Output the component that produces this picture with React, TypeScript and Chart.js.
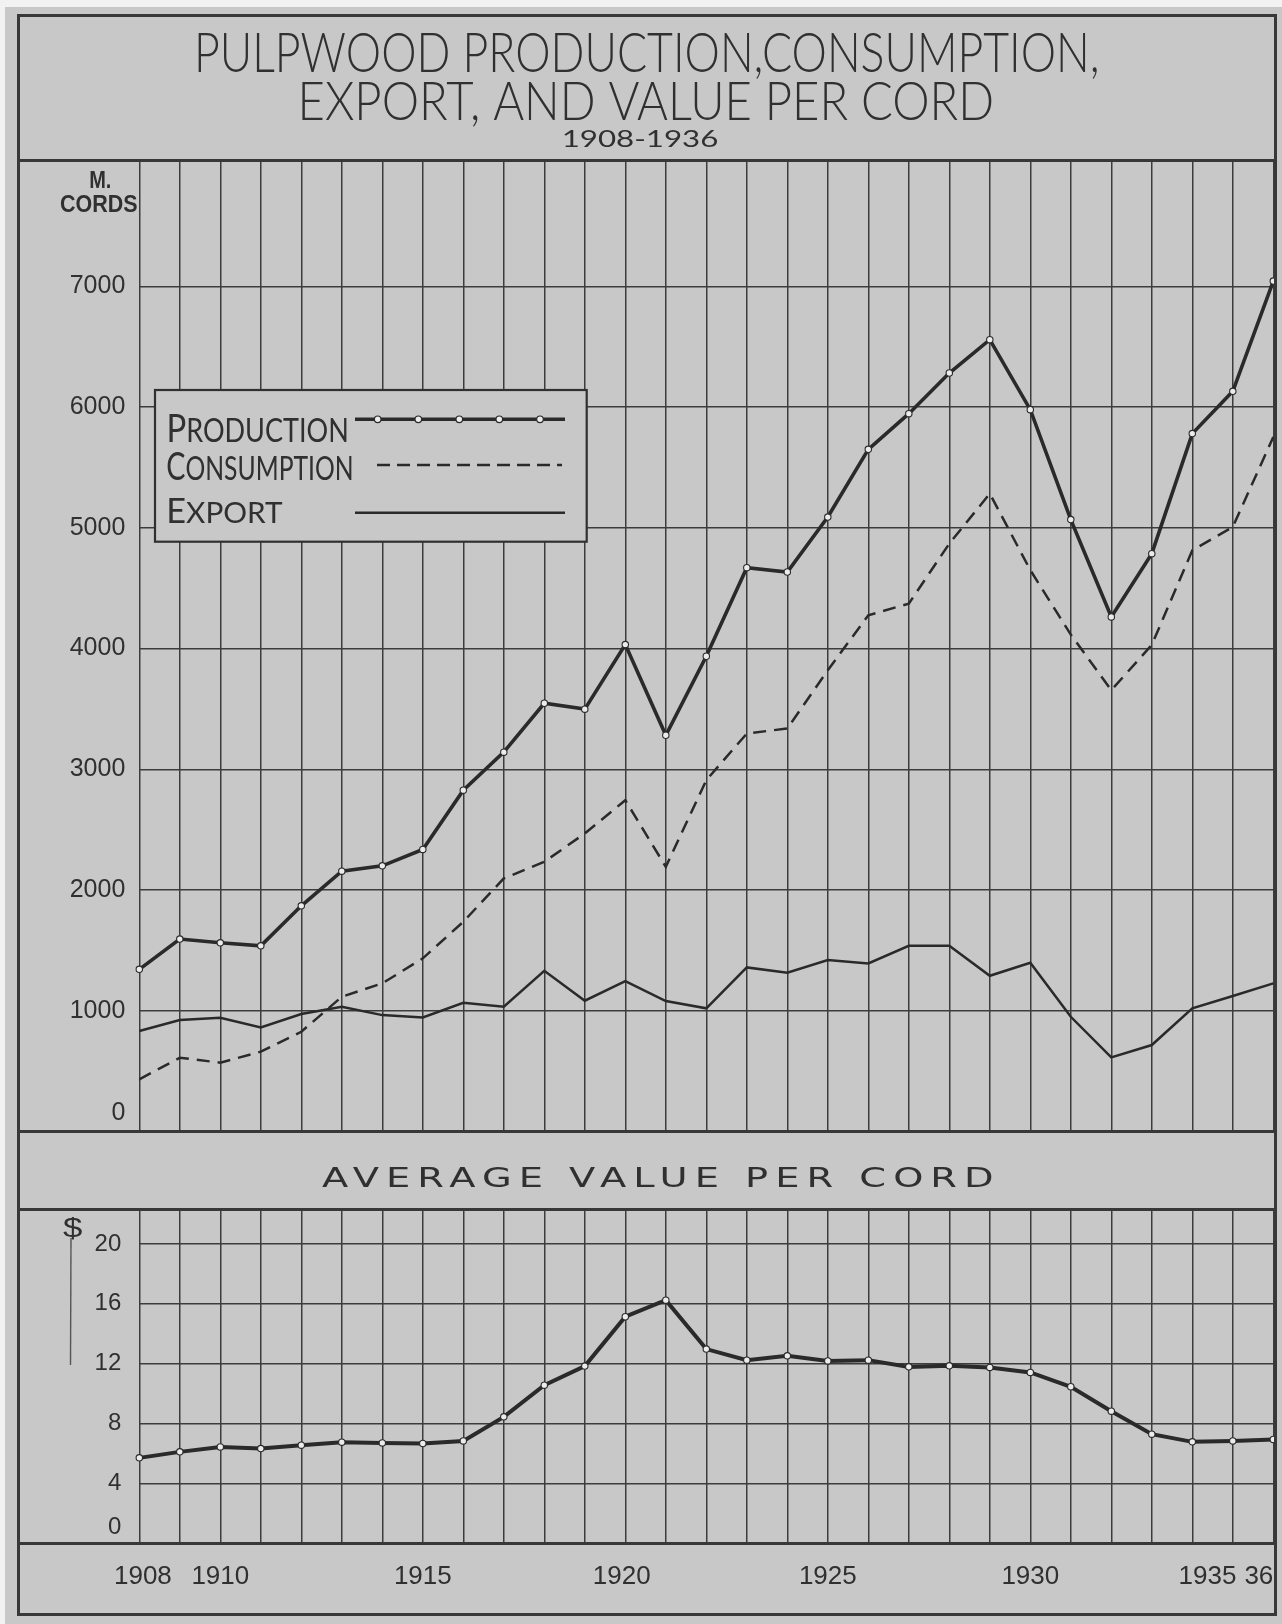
import React, { useEffect, useRef } from 'react';
import { Chart, registerables } from 'chart.js';

Chart.register(...registerables);

// ---------------- data ----------------
const years = [
  '1908', '1909', '1910', '1911', '1912', '1913', '1914', '1915', '1916', '1917',
  '1918', '1919', '1920', '1921', '1922', '1923', '1924', '1925', '1926', '1927',
  '1928', '1929', '1930', '1931', '1932', '1933', '1934', '1935', '1936',
];

// thousands of cords
const production = [
  1343, 1594, 1563, 1538, 1869, 2156, 2200, 2336, 2827, 3142,
  3547, 3498, 4033, 3282, 3936, 4670, 4634, 5089, 5650, 5945,
  6282, 6558, 5978, 5068, 4262, 4786, 5780, 6130, 7043,
];

const consumption = [
  432, 611, 570, 661, 826, 1116, 1227, 1434, 1737, 2096,
  2234, 2468, 2744, 2192, 2910, 3296, 3338, 3820, 4276, 4372,
  4869, 5283, 4650, 4115, 3655, 4030, 4813, 5007, 5752,
];

const exportsCords = [
  832, 923, 942, 862, 973, 1033, 964, 945, 1066, 1033,
  1331, 1083, 1246, 1080, 1020, 1359, 1315, 1420, 1392, 1538,
  1538, 1290, 1397, 950, 614, 716, 1020, 1122, 1227,
];

// dollars per cord
const valuePerCord = [
  5.71, 6.11, 6.44, 6.33, 6.56, 6.76, 6.71, 6.67, 6.84, 8.45,
  10.57, 11.84, 15.14, 16.25, 12.98, 12.24, 12.53, 12.19, 12.24, 11.79,
  11.86, 11.75, 11.42, 10.46, 8.83, 7.29, 6.78, 6.84, 6.94,
];

const cordTicks = [0, 1000, 2000, 3000, 4000, 5000, 6000, 7000];
const dollarTicks = [0, 4, 8, 12, 16, 20];
const yearTickYears = ['1908', '1910', '1915', '1920', '1925', '1930', '1935', '1936'];
const yearTickTexts = ['1908', '1910', '1915', '1920', '1925', '1930', '1935', '36'];

const titleLines = ['PULPWOOD PRODUCTION,CONSUMPTION,', 'EXPORT, AND VALUE PER CORD', '1908-1936'];
const legendNames = ['Production', 'Consumption', 'Export'];
const lowerTitle = 'AVERAGE VALUE PER CORD';
const cordUnit = ['M.', 'CORDS'];
const dollarUnit = '$';

// ---------------- style ----------------
const PAPER = '#c8c8c8';
const INK = '#303030';
const GRID = '#3c3c3c';
const LINE = '#2a2a2a';
const TICK_FAMILY = "'Liberation Sans', Arial, sans-serif";
const TITLE_FAMILY = "Lato, 'DejaVu Sans', sans-serif";

// label centring nudges (style only)
const tickNudge: Record<string, string> = {
  '1908': ' |',
  '1920': '| ',
  '1935': '|       ',
  '36': '|    ',
};

function nudged(label: string) {
  const n = tickNudge[label];
  if (!n) return label;
  return n.replace('|', label);
}

function capRatio(ctx: CanvasRenderingContext2D, weight: string, family: string) {
  ctx.font = `${weight} 100px ${family}`;
  const r = ctx.measureText('H').actualBoundingBoxAscent / 100;
  return r > 0.3 ? r : 0.72;
}

function drawFitted(
  ctx: CanvasRenderingContext2D,
  text: string,
  o: { family: string; weight: string; cap: number; left: number; right: number; baseline: number; spacing?: string; color?: string }
) {
  ctx.save();
  const r = capRatio(ctx, o.weight, o.family);
  const size = o.cap / r;
  ctx.font = `${o.weight} ${size}px ${o.family}`;
  if (o.spacing && 'letterSpacing' in ctx) (ctx as any).letterSpacing = o.spacing;
  ctx.textAlign = 'left';
  ctx.textBaseline = 'alphabetic';
  ctx.fillStyle = o.color || INK;
  const m = ctx.measureText(text);
  const inkL = m.actualBoundingBoxLeft;
  const inkW = m.actualBoundingBoxLeft + m.actualBoundingBoxRight;
  const sx = (o.right - o.left) / inkW;
  ctx.translate(o.left, o.baseline);
  ctx.scale(sx, 1);
  ctx.fillText(text, inkL, 0);
  ctx.restore();
}

function drawSmallCaps(
  ctx: CanvasRenderingContext2D,
  word: string,
  o: { family: string; weight: string; capBig: number; capSmall: number; left: number; right: number; baseline: number }
) {
  const first = word.slice(0, 1).toUpperCase();
  const rest = word.slice(1).toUpperCase();
  ctx.save();
  const r = capRatio(ctx, o.weight, o.family);
  const big = `${o.weight} ${o.capBig / r}px ${o.family}`;
  const small = `${o.weight} ${o.capSmall / r}px ${o.family}`;
  ctx.textAlign = 'left';
  ctx.textBaseline = 'alphabetic';
  ctx.fillStyle = INK;
  ctx.font = big;
  const m1 = ctx.measureText(first);
  ctx.font = small;
  const m2 = ctx.measureText(rest);
  const inkL = m1.actualBoundingBoxLeft;
  const total = inkL + m1.width + m2.actualBoundingBoxRight;
  const sx = (o.right - o.left) / total;
  ctx.translate(o.left, o.baseline);
  ctx.scale(sx, 1);
  ctx.font = big;
  ctx.fillText(first, inkL, 0);
  ctx.font = small;
  ctx.fillText(rest, inkL + m1.width, 0);
  ctx.restore();
}

const topDecor = {
  id: 'topDecor',
  afterDraw(chart: any) {
    const ctx: CanvasRenderingContext2D = chart.ctx;
    // title
    drawFitted(ctx, titleLines[0], { family: TITLE_FAMILY, weight: '300', cap: 40, left: 198, right: 1097, baseline: 71.7 });
    drawFitted(ctx, titleLines[1], { family: TITLE_FAMILY, weight: '300', cap: 38.3, left: 302, right: 992, baseline: 120 });
    drawFitted(ctx, titleLines[2], { family: TITLE_FAMILY, weight: '400', cap: 16.7, left: 563, right: 718, baseline: 146.7 });
    // unit label
    drawFitted(ctx, cordUnit[0], { family: TICK_FAMILY, weight: 'bold', cap: 16.7, left: 90, right: 110, baseline: 188.3 });
    drawFitted(ctx, cordUnit[1], { family: TICK_FAMILY, weight: 'bold', cap: 16.7, left: 60, right: 136.7, baseline: 212.3 });

    // legend box
    ctx.save();
    ctx.fillStyle = PAPER;
    ctx.fillRect(155, 390, 431.7, 151.7);
    ctx.strokeStyle = INK;
    ctx.lineWidth = 2.2;
    ctx.strokeRect(155, 390, 431.7, 151.7);

    // production sample
    ctx.strokeStyle = LINE;
    ctx.lineWidth = 3.5;
    ctx.beginPath();
    ctx.moveTo(355, 419.3);
    ctx.lineTo(565, 419.3);
    ctx.stroke();
    [377.7, 418.3, 459.3, 499.3, 540].forEach((x) => {
      ctx.beginPath();
      ctx.arc(x, 419.3, 3.3, 0, Math.PI * 2);
      ctx.fillStyle = '#ececec';
      ctx.fill();
      ctx.lineWidth = 1.2;
      ctx.strokeStyle = LINE;
      ctx.stroke();
    });
    // consumption sample
    ctx.lineWidth = 2.5;
    ctx.setLineDash([13, 7]);
    ctx.beginPath();
    ctx.moveTo(377, 465);
    ctx.lineTo(562, 465);
    ctx.stroke();
    ctx.setLineDash([]);
    // export sample
    ctx.beginPath();
    ctx.moveTo(355, 512.7);
    ctx.lineTo(565, 512.7);
    ctx.stroke();
    ctx.restore();

    drawSmallCaps(ctx, legendNames[0], { family: TITLE_FAMILY, weight: '400', capBig: 28.5, capSmall: 23.4, left: 169, right: 346.7, baseline: 441.7 });
    drawSmallCaps(ctx, legendNames[1], { family: TITLE_FAMILY, weight: '400', capBig: 28.5, capSmall: 24.5, left: 167, right: 351.7, baseline: 480 });
    drawSmallCaps(ctx, legendNames[2], { family: TITLE_FAMILY, weight: '400', capBig: 25, capSmall: 21.7, left: 169.3, right: 283, baseline: 523.3 });
  },
};

const bottomDecor = {
  id: 'bottomDecor',
  afterDraw(chart: any) {
    const ctx: CanvasRenderingContext2D = chart.ctx;
    // the chart canvas starts at page y = 1131
    const oy = 1131;
    drawFitted(ctx, lowerTitle, { family: "'DejaVu Sans', sans-serif", weight: 'normal', cap: 20, left: 322, right: 992, baseline: 1187 - oy, spacing: '5px' });
    drawFitted(ctx, dollarUnit, { family: TICK_FAMILY, weight: 'normal', cap: 19, left: 63, right: 82, baseline: 1237 - oy });
    ctx.save();
    ctx.strokeStyle = '#555';
    ctx.lineWidth = 1.4;
    ctx.beginPath();
    ctx.moveTo(71, 1238 - oy);
    ctx.lineTo(70.5, 1365 - oy);
    ctx.stroke();
    ctx.restore();
  },
};

export default function App() {
  const topRef = useRef<HTMLCanvasElement>(null);
  const botRef = useRef<HTMLCanvasElement>(null);

  useEffect(() => {
    const gridStyle = { color: GRID, lineWidth: 1.5, drawTicks: false };

    const top = new Chart(topRef.current!, {
      type: 'line',
      data: {
        labels: years,
        datasets: [
          {
            label: legendNames[0],
            data: production,
            borderColor: LINE,
            borderWidth: 3.6,
            pointRadius: 3.2,
            pointBorderWidth: 1.1,
            pointBackgroundColor: '#ececec',
            pointBorderColor: LINE,
            tension: 0,
            clip: false as any,
          },
          {
            label: legendNames[1],
            data: consumption,
            borderColor: LINE,
            borderWidth: 2.5,
            borderDash: [13, 8],
            pointRadius: 0,
            tension: 0,
          },
          {
            label: legendNames[2],
            data: exportsCords,
            borderColor: LINE,
            borderWidth: 2.5,
            pointRadius: 0,
            tension: 0,
          },
        ],
      },
      options: {
        responsive: false,
        animation: false,
        devicePixelRatio: 1,
        events: [],
        layout: { padding: { left: 0, right: 8.7, top: 160.5, bottom: 18.5 } },
        plugins: { legend: { display: false }, tooltip: { enabled: false }, title: { display: false } },
        scales: {
          x: {
            type: 'category',
            offset: false,
            grid: gridStyle,
            border: { display: false },
            ticks: { display: false },
            afterFit: (s: any) => {
              s.height = 0;
              s.paddingLeft = 0;
              s.paddingRight = 0;
            },
          },
          y: {
            min: 0,
            max: 8042,
            grid: gridStyle,
            border: { display: false },
            afterBuildTicks: (s: any) => {
              s.ticks = cordTicks.map((v) => ({ value: v }));
            },
            ticks: {
              color: INK,
              padding: 14,
              autoSkip: false,
              font: { family: TICK_FAMILY, size: 25, lineHeight: 1.48 },
              callback: (v: any) => (v === 0 ? ['0', ''] : String(v)),
            },
            afterFit: (s: any) => {
              s.width = 139.3;
              s.paddingTop = 0;
              s.paddingBottom = 0;
            },
          },
        },
      } as any,
      plugins: [topDecor],
    });

    const bottom = new Chart(botRef.current!, {
      type: 'line',
      data: {
        labels: years,
        datasets: [
          {
            label: lowerTitle,
            data: valuePerCord,
            borderColor: LINE,
            borderWidth: 4,
            pointRadius: 3.2,
            pointBorderWidth: 1.1,
            pointBackgroundColor: '#ececec',
            pointBorderColor: LINE,
            tension: 0,
            clip: false as any,
          },
        ],
      },
      options: {
        responsive: false,
        animation: false,
        devicePixelRatio: 1,
        events: [],
        layout: { padding: { left: 0, right: 8.7, top: 78, bottom: 0 } },
        plugins: { legend: { display: false }, tooltip: { enabled: false }, title: { display: false } },
        scales: {
          x: {
            type: 'category',
            offset: false,
            grid: gridStyle,
            border: { display: false },
            ticks: {
              color: INK,
              padding: 18,
              autoSkip: false,
              maxRotation: 0,
              minRotation: 0,
              font: { family: TICK_FAMILY, size: 26 },
              callback: (_v: any, i: number) => {
                const k = yearTickYears.indexOf(years[i]);
                return k >= 0 ? nudged(yearTickTexts[k]) : '';
              },
            },
            afterFit: (s: any) => {
              s.height = 80.7;
              s.paddingLeft = 0;
              s.paddingRight = 0;
            },
          },
          y: {
            min: 0,
            max: 22.34,
            grid: gridStyle,
            border: { display: false },
            afterBuildTicks: (s: any) => {
              s.ticks = dollarTicks.map((v) => ({ value: v }));
            },
            ticks: {
              color: INK,
              padding: 18,
              autoSkip: false,
              font: { family: TICK_FAMILY, size: 24, lineHeight: 1.36 },
              callback: (v: any) => (v === 0 ? ['0', ''] : String(v)),
            },
            afterFit: (s: any) => {
              s.width = 139.3;
              s.paddingTop = 0;
              s.paddingBottom = 0;
            },
          },
        },
      } as any,
      plugins: [bottomDecor],
    });

    return () => {
      top.destroy();
      bottom.destroy();
    };
  }, []);

  const line = (top: number, h: number): React.CSSProperties => ({
    position: 'absolute',
    left: 17,
    width: 1260,
    top,
    height: h,
    background: '#383838',
    pointerEvents: 'none',
  });

  return (
    <div style={{ position: 'absolute', left: 0, top: 0, width: 1282, height: 1624, background: '#f2f2f2', overflow: 'hidden' }}>
      <div style={{ position: 'absolute', left: 5, top: 7, right: 0, bottom: 0, background: PAPER }} />
      <canvas ref={topRef} width={1282} height={1150} style={{ position: 'absolute', left: 0, top: 0 }} />
      <canvas ref={botRef} width={1282} height={493} style={{ position: 'absolute', left: 0, top: 1131 }} />
      <div
        style={{
          position: 'absolute',
          left: 17,
          top: 14,
          width: 1260,
          height: 1602,
          border: '3px solid #383838',
          boxSizing: 'border-box',
          pointerEvents: 'none',
        }}
      />
      <div style={line(159, 3)} />
      <div style={line(1130, 3)} />
      <div style={line(1208, 2.5)} />
      <div style={line(1542, 2.5)} />
    </div>
  );
}
